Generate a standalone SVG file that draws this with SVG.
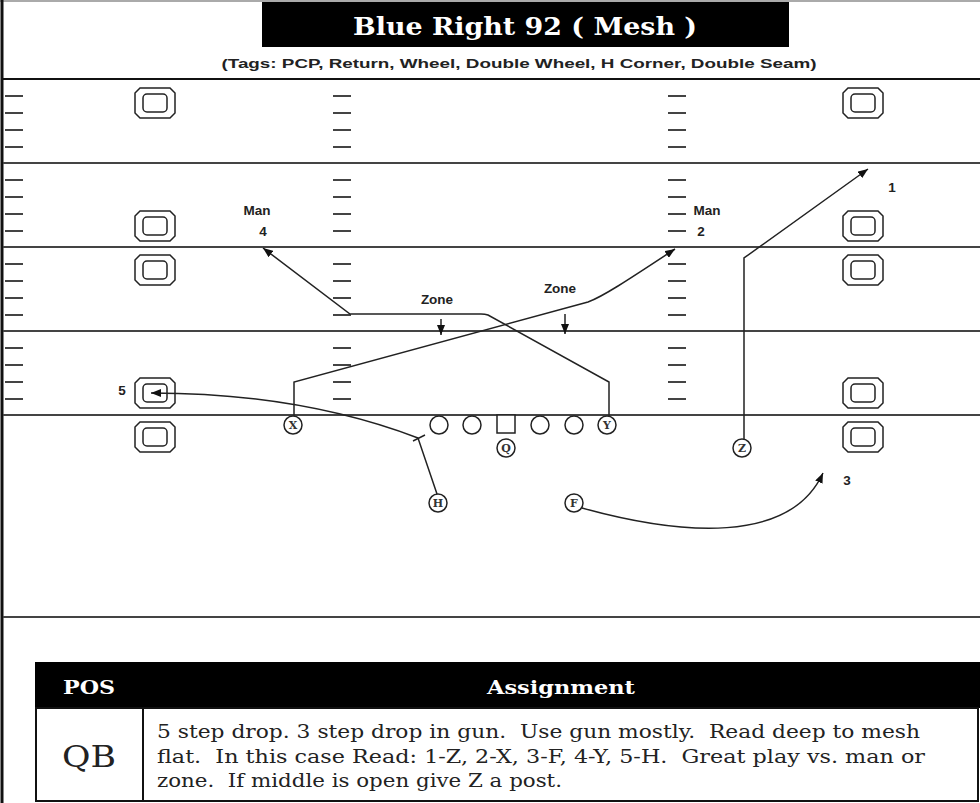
<svg xmlns="http://www.w3.org/2000/svg" width="980" height="803" viewBox="0 0 980 803">
<style>
.fl{stroke:#444;stroke-width:2;fill:none}
.hash{stroke:#444;stroke-width:2.2;fill:none}
.box{fill:#fff;stroke:#222;stroke-width:1.5}
.pl{fill:#fff;stroke:#222;stroke-width:1.5}
.pt{font-family:"DejaVu Serif",serif;font-size:11px;font-weight:bold;fill:#333;text-anchor:middle}
.route{fill:none;stroke:#222;stroke-width:1.5}
.lbl{font-family:"Liberation Sans",Arial,sans-serif;font-weight:bold;font-size:13.5px;fill:#222}
.cell{font-family:"DejaVu Serif",serif;font-size:19px;fill:#222;white-space:pre}
</style>
<defs>
<marker id="ah" markerUnits="userSpaceOnUse" markerWidth="11" markerHeight="8" refX="10" refY="4" orient="auto">
<path d="M0,0 L10,4 L0,8 Z" fill="#111"/>
</marker>
<g id="gp">
<path class="box" d="M-15,-15 H15 L20,-10 V10 L15,15 H-15 L-20,10 V-10 Z"/>
<rect x="-12" y="-9" width="24" height="18" rx="4" fill="none" stroke="#222" stroke-width="1.5"/>
</g>
<path id="tk" d="M0,17 h18 M0,34 h18 M0,51 h18 M0,68 h18"/>
</defs>
<rect width="980" height="803" fill="#fff"/>
<line x1="0" y1="1" x2="980" y2="1" stroke="#aaa" stroke-width="2"/>
<line x1="2" y1="0" x2="2" y2="803" stroke="#111" stroke-width="3"/>

<g id="title">
<rect x="262" y="2" width="527" height="45" fill="#000"/>
<text x="525" y="35" text-anchor="middle" font-family="'DejaVu Serif',serif" font-weight="bold" font-size="25" fill="#fff" textLength="344" lengthAdjust="spacingAndGlyphs">Blue Right 92 ( Mesh )</text>
<text x="519" y="68" text-anchor="middle" font-family="'Liberation Sans',Arial,sans-serif" font-weight="bold" font-size="13.5" fill="#222" textLength="595" lengthAdjust="spacingAndGlyphs">(Tags: PCP, Return, Wheel, Double Wheel, H Corner, Double Seam)</text>
</g>

<g id="field">
<line x1="3" y1="79" x2="980" y2="79" stroke="#111" stroke-width="2"/>
<line class="fl" x1="3" y1="163" x2="980" y2="163"/>
<line class="fl" x1="3" y1="247" x2="980" y2="247"/>
<line class="fl" x1="3" y1="331" x2="980" y2="331"/>
<line class="fl" x1="3" y1="415" x2="980" y2="415"/>
<line class="fl" x1="3" y1="617" x2="980" y2="617"/>
<g class="hash">
<use href="#tk" x="5" y="79"/><use href="#tk" x="333" y="79"/><use href="#tk" x="668" y="79"/>
<use href="#tk" x="5" y="163"/><use href="#tk" x="333" y="163"/><use href="#tk" x="668" y="163"/>
<use href="#tk" x="5" y="247"/><use href="#tk" x="333" y="247"/><use href="#tk" x="668" y="247"/>
<use href="#tk" x="5" y="331"/><use href="#tk" x="333" y="331"/><use href="#tk" x="668" y="331"/>
</g>
<use href="#gp" x="155" y="103"/><use href="#gp" x="155" y="226"/><use href="#gp" x="155" y="270"/><use href="#gp" x="155" y="393"/><use href="#gp" x="155" y="437"/>
<use href="#gp" x="863" y="103"/><use href="#gp" x="863" y="226"/><use href="#gp" x="863" y="270"/><use href="#gp" x="863" y="393"/><use href="#gp" x="863" y="437"/>
</g>

<g id="connectors">
<path class="route" d="M294,416 V382 L588,302 C602,297 625,282 675,249" marker-end="url(#ah)"/>
<path class="route" d="M609,416 V382 L488,315 Q485,314 481,314 H350 L263,248" marker-end="url(#ah)"/>
<path class="route" d="M744,439 V258 L868,169" marker-end="url(#ah)"/>
<path class="route" d="M437,494 L418,438 Q300,393 151,393" marker-end="url(#ah)"/>
<path class="route" d="M413,441 L425,435"/>
<path class="route" d="M582,508 C680,535 790,545 823,473" marker-end="url(#ah)"/>
<path class="route" d="M441,319 V335" marker-end="url(#ah)"/>
<path class="route" d="M565,314 V334" marker-end="url(#ah)"/>
</g>

<g id="labels">
<text class="lbl" x="257" y="215" text-anchor="middle">Man</text>
<text class="lbl" x="263" y="236" text-anchor="middle">4</text>
<text class="lbl" x="707" y="215" text-anchor="middle">Man</text>
<text class="lbl" x="701" y="236" text-anchor="middle">2</text>
<text class="lbl" x="437" y="304" text-anchor="middle">Zone</text>
<text class="lbl" x="560" y="293" text-anchor="middle">Zone</text>
<text class="lbl" x="892" y="192" text-anchor="middle">1</text>
<text class="lbl" x="847" y="485" text-anchor="middle">3</text>
<text class="lbl" x="122" y="395" text-anchor="middle" font-family="'Liberation Serif',serif" font-size="15">5</text>
</g>

<g id="player-X"><circle class="pl" cx="293" cy="425" r="9"/><text class="pt" x="293" y="429">X</text></g>
<g id="player-LT"><circle class="pl" cx="439" cy="425" r="9"/></g>
<g id="player-LG"><circle class="pl" cx="472" cy="425" r="9"/></g>
<g id="player-C"><rect class="pl" x="497" y="415" width="18" height="18"/></g>
<g id="player-RG"><circle class="pl" cx="540" cy="425" r="9"/></g>
<g id="player-RT"><circle class="pl" cx="574" cy="425" r="9"/></g>
<g id="player-Y"><circle class="pl" cx="607" cy="425" r="9"/><text class="pt" x="607" y="429">Y</text></g>
<g id="player-Q"><circle class="pl" cx="506" cy="448" r="9"/><text class="pt" x="506" y="452">Q</text></g>
<g id="player-Z"><circle class="pl" cx="742" cy="448" r="9"/><text class="pt" x="742" y="452">Z</text></g>
<g id="player-H"><circle class="pl" cx="438" cy="503" r="9"/><text class="pt" x="438" y="507">H</text></g>
<g id="player-F"><circle class="pl" cx="574" cy="503" r="9"/><text class="pt" x="574" y="507">F</text></g>

<g id="table">
<rect x="35" y="662" width="945" height="46" fill="#000"/>
<text x="89" y="694" text-anchor="middle" font-family="'DejaVu Serif',serif" font-weight="bold" font-size="18" fill="#fff" textLength="52" lengthAdjust="spacingAndGlyphs">POS</text>
<text x="561" y="694" text-anchor="middle" font-family="'DejaVu Serif',serif" font-weight="bold" font-size="18" fill="#fff" textLength="148" lengthAdjust="spacingAndGlyphs">Assignment</text>
<rect x="36" y="708" width="942" height="93" fill="#fff" stroke="#111" stroke-width="2"/>
<line x1="143" y1="708" x2="143" y2="801" stroke="#111" stroke-width="2"/>
<text x="89" y="767" text-anchor="middle" font-family="'DejaVu Serif',serif" font-size="29" fill="#222" textLength="54" lengthAdjust="spacingAndGlyphs">QB</text>
<text class="cell" x="157" y="738" textLength="763" lengthAdjust="spacingAndGlyphs">5 step drop. 3 step drop in gun.  Use gun mostly.  Read deep to mesh</text>
<text class="cell" x="157" y="763" textLength="768" lengthAdjust="spacingAndGlyphs">flat.  In this case Read: 1-Z, 2-X, 3-F, 4-Y, 5-H.  Great play vs. man or</text>
<text class="cell" x="157" y="787" textLength="405" lengthAdjust="spacingAndGlyphs">zone.  If middle is open give Z a post.</text>
</g>
</svg>
